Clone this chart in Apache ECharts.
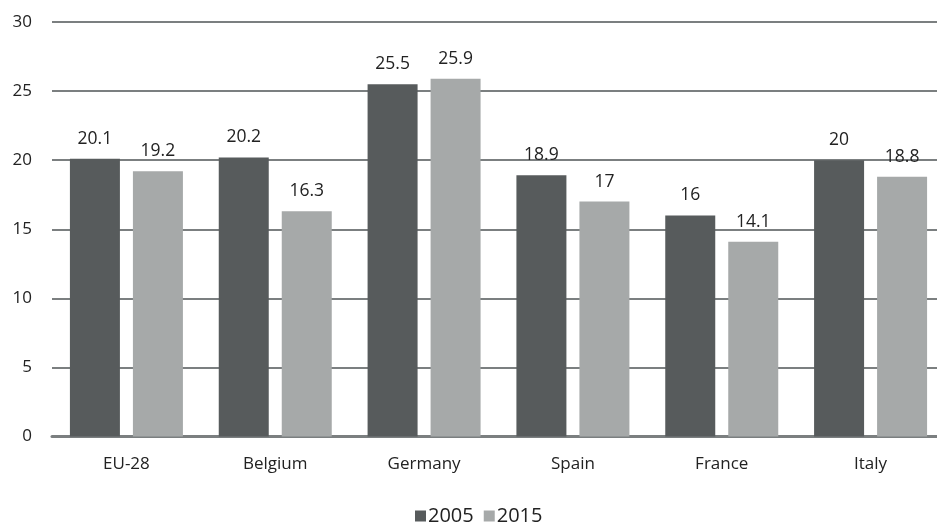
<!DOCTYPE html>
<html>
<head>
<meta charset="utf-8">
<script src="https://cdn.jsdelivr.net/npm/echarts@6/dist/echarts.min.js"></script>
<style>
html,body{margin:0;padding:0;background:#fff;}
#chart{width:937px;height:524px;}
</style>
</head>
<body>
<div id="chart"></div>
<script>
const categories = ['EU-28', 'Belgium', 'Germany', 'Spain', 'France', 'Italy'];
const values2005 = [20.1, 20.2, 25.5, 18.9, 16, 20];
const values2015 = [19.2, 16.3, 25.9, 17, 14.1, 18.8];
const seriesNames = ['2005', '2015'];
const yTicks = { min: 0, max: 30, interval: 5 };

const font = '"Open Sans", "Noto Sans", sans-serif';
const chart = echarts.init(document.getElementById('chart'), null, { renderer: 'canvas' });
chart.setOption({
  animation: false,
  textStyle: { fontFamily: font },
  grid: { left: 52, width: 893, top: 22, height: 414.5, containLabel: false, outerBoundsMode: 'none' },
  legend: {
    top: 501,
    left: 410,
    itemWidth: 11,
    itemHeight: 11,
    itemGap: 10,
    icon: 'rect',
    textStyle: { fontSize: 20, color: '#222', fontFamily: font, padding: [0, 0, 0, -3] },
    data: seriesNames
  },
  xAxis: {
    type: 'category',
    data: categories,
    axisTick: { show: false },
    axisLine: { lineStyle: { color: '#7b7f80', width: 3 } },
    axisLabel: { fontSize: 17, color: '#222', margin: 19, fontFamily: font }
  },
  yAxis: {
    type: 'value',
    min: yTicks.min,
    max: yTicks.max,
    interval: yTicks.interval,
    axisLine: { show: false },
    axisTick: { show: false },
    axisLabel: { fontSize: 17, color: '#222', margin: 20, fontFamily: font },
    splitLine: { lineStyle: { color: '#7b7f80', width: 2 } }
  },
  series: [
    {
      name: seriesNames[0],
      type: 'bar',
      data: values2005,
      barWidth: 50,
      barGap: '26%',
      itemStyle: { color: '#575b5c' },
      label: { show: true, position: 'top', distance: 11, fontSize: 17.5, color: '#222', fontFamily: font }
    },
    {
      name: seriesNames[1],
      type: 'bar',
      data: values2015,
      barWidth: 50,
      barGap: '26%',
      itemStyle: { color: '#a6a9a9' },
      label: { show: true, position: 'top', distance: 11, fontSize: 17.5, color: '#222', fontFamily: font }
    }
  ]
});
</script>
</body>
</html>
